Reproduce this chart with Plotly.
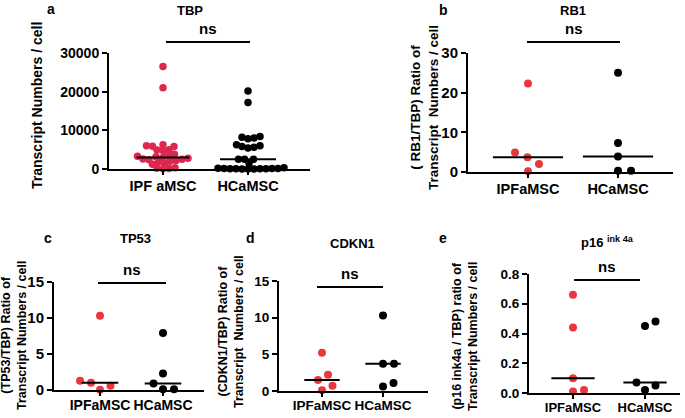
import numpy as np
import plotly.graph_objects as go

# ---- data ----
CATS_A = ["IPF aMSC", "HCaMSC"]
CATS = ["IPFaMSC", "HCaMSC"]

TBP_IPF = [26500, 21000, 6300, 6000, 5900, 5800, 5000, 4900, 4800, 3800, 3500, 3300,
           3200, 3000, 2800, 2600, 2500, 2400, 2200, 2000, 1800, 1500, 1200, 300, 200, 100, 50]
TBP_HC = [20200, 17200, 8400, 8200, 8000, 7800, 6300, 6000, 5800, 5600, 5400, 2500, 2500,
          2500, 1500, 300, 200, 150, 100, 100, 80, 60, 50, 40, 30, 20, 10]
RB1_IPF = [22.3, 4.9, 3.7, 2.0, 0.2]
RB1_HC = [25.0, 7.3, 3.9, 0.3, 0.3]
TP53_IPF = [10.3, 1.3, 1.0, 0.6, 0.05]
TP53_HC = [7.9, 2.3, 0.9, 0.1, 0.1]
CDKN1_IPF = [5.2, 2.2, 1.5, 0.7, 0.1]
CDKN1_HC = [10.3, 3.7, 3.7, 1.1, 0.6]
P16_IPF = [0.66, 0.44, 0.10, 0.02, 0.01]
P16_HC = [0.48, 0.45, 0.07, 0.05, 0.02]

W, H = 685, 418
RED_A = "#DC2850"
RED = "#E8383D"
BLACK = "#000000"
FONT = "Liberation Sans, Arial, sans-serif"


def fx(p):
    return p / W


def fy(p):
    return 1 - p / H


def swarm(vals, ppx, ppy, d):
    """Simple beeswarm: returns x offsets (data units) for each value."""
    order = np.argsort(vals)
    placed = []
    xs = np.zeros(len(vals))
    for i in order:
        yp = vals[i] * ppy
        k = 0
        while True:
            cands = [0.0] if k == 0 else [k * 0.5, -k * 0.5]
            hit = None
            for xp in cands:
                if all((xp - a) ** 2 + (yp - b) ** 2 >= d * d for a, b in placed):
                    hit = xp
                    break
            if hit is not None:
                break
            k += 1
        placed.append((hit, yp))
        xs[i] = hit / ppx
    return xs


# panel geometry in pixels
panels = [
    dict(key="", left=109, right=310, ybot=169, ytop=53, c0=163, c1=248, ymax=30000,
         ticks=[0, 10000, 20000, 30000], fmt="d", cats=CATS_A, data=(TBP_IPF, TBP_HC),
         red=RED_A, hw=(0.31, 0.33), gap=5.8, msize=7.5, ns_y=42, ns_x=(166, 250),
         xfs=14.5, yfs=14, xstand=-1),
    dict(key="2", left=468, right=673, ybot=172, ytop=53, c0=528, c1=618, ymax=30,
         ticks=[0, 10, 20, 30], fmt="d", cats=CATS, data=(RB1_IPF, RB1_HC),
         red=RED, hw=(0.39, 0.39), gap=13.0, msize=8, ns_y=42, ns_x=(527, 620),
         xfs=14.5, yfs=15, xstand=-1),
    dict(key="3", left=54, right=204, ybot=390, ytop=282, c0=100, c1=163, ymax=15,
         ticks=[0, 5, 10, 15], fmt="d", cats=CATS, data=(TP53_IPF, TP53_HC),
         red=RED, hw=(0.29, 0.29), gap=11.0, msize=8, ns_y=283, ns_x=(98, 166),
         xfs=14, yfs=15, xstand=-3),
    dict(key="4", left=279, right=428, ybot=391, ytop=281, c0=322, c1=383, ymax=15,
         ticks=[0, 5, 10, 15], fmt="d", cats=CATS, data=(CDKN1_IPF, CDKN1_HC),
         red=RED, hw=(0.29, 0.29), gap=11.0, msize=8, ns_y=287, ns_x=(317, 383),
         xfs=13.5, yfs=13.5, xstand=-3),
    dict(key="5", left=529, right=680, ybot=393, ytop=274, c0=573, c1=645, ymax=0.8,
         ticks=[0, 0.2, 0.4, 0.6, 0.8], fmt=".1f", cats=CATS, data=(P16_IPF, P16_HC),
         red=RED, hw=(0.3, 0.3), gap=11.0, msize=8, ns_y=280, ns_x=(574, 640),
         xfs=13, yfs=13.5, xstand=-3),
]

fig = go.Figure()
layout = dict(
    width=W, height=H, margin=dict(l=0, r=0, t=0, b=0, pad=0, autoexpand=False),
    paper_bgcolor="white", plot_bgcolor="white", showlegend=False,
    font=dict(family=FONT, color="black", size=14),
)
shapes = []
annotations = []

for p in panels:
    k = p["key"]
    span = p["c1"] - p["c0"]
    xr = [(p["left"] - p["c0"]) / span, (p["right"] - p["c0"]) / span]
    ppx = span
    ppy = (p["ybot"] - p["ytop"]) / p["ymax"]
    xa, ya = "x" + k, "y" + k
    for ci, (vals, col) in enumerate(zip(p["data"], [p["red"], BLACK])):
        vals = np.array(vals, dtype=float)
        xs = ci + swarm(vals, ppx, ppy, p["gap"])
        fig.add_trace(go.Scatter(
            x=xs, y=vals, mode="markers", xaxis=xa, yaxis=ya,
            marker=dict(size=p["msize"], color=col, line=dict(width=0)),
            cliponaxis=False, hoverinfo="skip",
        ))
        med = float(np.median(vals))
        hw = p["hw"][ci]
        fig.add_trace(go.Scatter(
            x=[ci - hw, ci + hw], y=[med, med], mode="lines", xaxis=xa, yaxis=ya,
            line=dict(color="black", width=2), hoverinfo="skip",
        ))
    axcommon = dict(showline=True, linecolor="black", linewidth=2, ticks="outside",
                    tickcolor="black", tickwidth=2, showgrid=False, zeroline=False,
                    automargin=False)
    layout["xaxis" + k] = dict(
        domain=[fx(p["left"]), fx(p["right"])], range=xr, anchor=ya,
        tickvals=[0, 1], ticktext=p["cats"], ticklen=4, tickangle=0,
        ticklabelstandoff=p["xstand"],
        tickfont=dict(family=FONT, size=p["xfs"], weight="bold"), **axcommon,
    )
    layout["yaxis" + k] = dict(
        domain=[fy(p["ybot"]), fy(p["ytop"])], range=[0, p["ymax"]], anchor=xa,
        tickvals=p["ticks"], tickformat=p["fmt"], ticklen=5,
        tickfont=dict(family=FONT, size=p["yfs"], weight="bold"), **axcommon,
    )
    # significance bar
    shapes.append(dict(type="line", xref="paper", yref="paper",
                       x0=fx(p["ns_x"][0]), x1=fx(p["ns_x"][1]),
                       y0=fy(p["ns_y"]), y1=fy(p["ns_y"]),
                       line=dict(color="black", width=2)))
    annotations.append(dict(text="<b>ns</b>", xref="paper", yref="paper",
                            x=fx((p["ns_x"][0] + p["ns_x"][1]) / 2), y=fy(p["ns_y"] - 3),
                            xanchor="center", yanchor="bottom", showarrow=False,
                            font=dict(size=15)))


def text(t, x, y, size=14, angle=0, xanchor="center", yanchor="middle"):
    annotations.append(dict(text=t, xref="paper", yref="paper", x=fx(x), y=fy(y),
                            showarrow=False, textangle=angle, xanchor=xanchor,
                            yanchor=yanchor, font=dict(size=size, family=FONT)))


# titles and panel letters
text("<b>TBP</b>", 190, 11, 13)
text("<b>a</b>", 51, 9, 14)
text("<b>RB1</b>", 573, 11, 13)
text("<b>b</b>", 443, 10, 14)
text("<b>TP53</b>", 135, 238, 13)
text("<b>c</b>", 48, 238, 14)
text("<b>CDKN1</b>", 353, 243, 13)
text("<b>d</b>", 250, 238, 14)
text("<b>p16 <sup>ink 4a</sup></b>", 607, 242, 13)
text("<b>e</b>", 443, 238, 14)

# y-axis titles
text("<b>Transcript Numbers / cell</b>", 37, 106, 14, -90)
text("<b>( RB1/TBP) Ratio of<br>Transcript  Numbers / cell</b>", 424, 108, 13.5, -90)
text("<b>(TP53/TBP) Ratio of<br>Transcript Numbers / cell</b>", 14, 336, 12.5, -90)
text("<b>(CDKN1/TBP) Ratio of<br>Transcript  Numbers / cell</b>", 231, 332, 12.5, -90)
text("<b>(p16 ink4a / TBP) ratio of<br>Transcript Numbers / cell</b>", 465, 336, 12.5, -90)

layout["shapes"] = shapes
layout["annotations"] = annotations
fig.update_layout(**layout)
# drop the default page margin so the figure sits at the window's corner
fig.write_html("out.html", config={"displayModeBar": False},
               post_script="document.body.style.margin='0';document.body.style.overflow='hidden';")
